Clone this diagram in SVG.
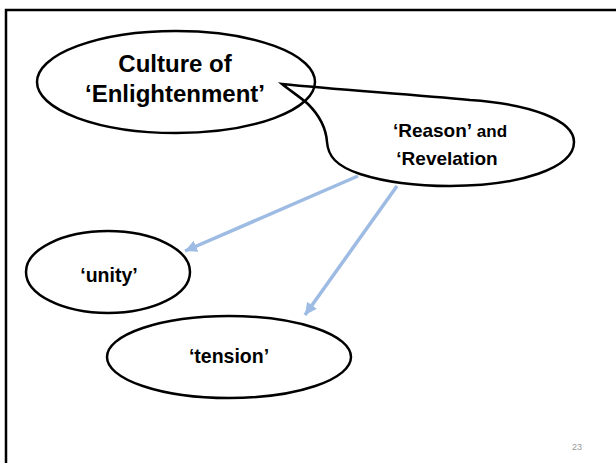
<svg xmlns="http://www.w3.org/2000/svg" width="616" height="463" viewBox="0 0 616 463">
<style>
.shape{fill:none;stroke:#000;stroke-width:2.5}
.lbl{font-family:"Liberation Sans",Arial,sans-serif;font-weight:bold;fill:#000;text-anchor:middle}
.conn{stroke:#9dbbe3;stroke-width:3.5;fill:none}
</style>
<defs>
<marker id="ah" markerUnits="userSpaceOnUse" markerWidth="14" markerHeight="14" refX="12" refY="6" orient="auto" viewBox="0 0 14 12">
<path d="M0,0 L12,6 L0,12 Z" fill="#9dbbe3"/>
</marker>
</defs>
<rect width="616" height="463" fill="#fff"/>
<path d="M6,463 L6,10 L616,10" fill="none" stroke="#000" stroke-width="2.5"/>
<g id="connectors">
<line class="conn" x1="358" y1="176" x2="185" y2="251" marker-end="url(#ah)"/>
<line class="conn" x1="397" y1="186" x2="305" y2="315" marker-end="url(#ah)"/>
</g>
<g id="culture">
<ellipse class="shape" cx="176" cy="82" rx="139" ry="51"/>
<text class="lbl" x="175" y="72" font-size="24">Culture of</text>
<text class="lbl" x="175" y="102" font-size="24">‘Enlightenment’</text>
</g>
<g id="reason">
<path class="shape" d="M282,84 C292,92 300,97 308,104 C320,116 326,128 327,142 C328,156 336,166 360,174 C385,182 415,186 450,186 C520,186 574,168 574,142 C574,120 530,104 470,100 C410,94 340,90 282,84 Z"/>
<text class="lbl" x="450" y="137"><tspan font-size="19">‘Reason’</tspan><tspan font-size="17"> and</tspan></text>
<text class="lbl" x="447" y="165" font-size="19">‘Revelation</text>
</g>
<g id="unity">
<ellipse class="shape" cx="108" cy="272" rx="82" ry="41"/>
<text class="lbl" x="109" y="282" font-size="19.5">‘unity’</text>
</g>
<g id="tension">
<ellipse class="shape" cx="229" cy="357" rx="122" ry="41"/>
<text class="lbl" x="229" y="363" font-size="19.5">‘tension’</text>
</g>
<text x="577" y="450" font-family="Liberation Sans,Arial,sans-serif" font-size="9" fill="#999" text-anchor="middle">23</text>
</svg>
